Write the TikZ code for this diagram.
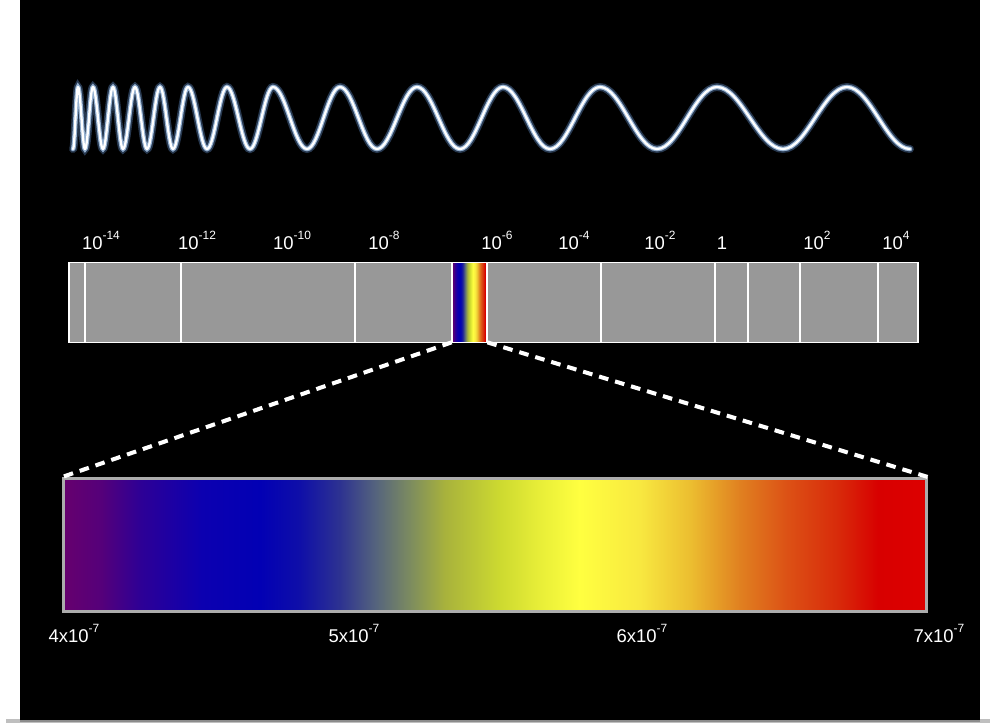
\documentclass[tikz,border=0pt]{standalone}
\usepackage{fontspec}
\setmainfont{Liberation Sans}
\usepackage{tikz}
\usetikzlibrary{positioning,calc}
\definecolor{panelBlack}{RGB}{0,0,0}
\definecolor{barGray}{RGB}{152,152,152}
\definecolor{bandEdge}{RGB}{172,172,172}
\definecolor{glowBlue}{RGB}{110,160,225}
\definecolor{glowPale}{RGB}{175,205,240}
% visible spectrum, stops between 25bp and 75bp
\pgfdeclarehorizontalshading{visible}{100bp}{%
  color(0bp)=(rgb,255:red,102;green,0;blue,110);
  color(25bp)=(rgb,255:red,102;green,0;blue,110);
  color(27.2bp)=(rgb,255:red,85;green,0;blue,122);
  color(29.5bp)=(rgb,255:red,45;green,0;blue,150);
  color(33bp)=(rgb,255:red,12;green,0;blue,176);
  color(36.4bp)=(rgb,255:red,2;green,0;blue,180);
  color(38.7bp)=(rgb,255:red,15;green,15;blue,168);
  color(41bp)=(rgb,255:red,45;green,50;blue,145);
  color(43.1bp)=(rgb,255:red,85;green,100;blue,125);
  color(45.1bp)=(rgb,255:red,125;green,140;blue,95);
  color(47.1bp)=(rgb,255:red,168;green,178;blue,60);
  color(50.3bp)=(rgb,255:red,205;green,218;blue,48);
  color(52.6bp)=(rgb,255:red,232;green,238;blue,56);
  color(54.9bp)=(rgb,255:red,255;green,255;blue,64);
  color(58.4bp)=(rgb,255:red,248;green,232;blue,64);
  color(61.3bp)=(rgb,255:red,236;green,190;blue,48);
  color(64.2bp)=(rgb,255:red,224;green,128;blue,32);
  color(67bp)=(rgb,255:red,220;green,80;blue,21);
  color(69.9bp)=(rgb,255:red,216;green,42;blue,10);
  color(72.2bp)=(rgb,255:red,216;green,0;blue,0);
  color(75bp)=(rgb,255:red,221;green,0;blue,0);
  color(100bp)=(rgb,255:red,221;green,0;blue,0)}
\newcommand{\expo}[1]{\raisebox{0.5em}{\fontsize{6.8}{7}\selectfont #1}}

\begin{document}
\begin{tikzpicture}[x=0.02cm, y=-0.02cm,
    every node/.style={text=white, font=\fontsize{10.5}{12}\selectfont},
    wave/.style={draw=white, line width=1.3pt, line cap=round, line join=round,
      preaction={draw=glowBlue, opacity=0.35, line width=4.5pt, line cap=round},
      preaction={draw=glowPale, opacity=0.8, line width=2.6pt, line cap=round}},
    divider/.style={draw=white, line width=1.1pt},
    zoomline/.style={draw=white, line width=2.3pt, dash pattern=on 5.5pt off 4pt},
    scalelabel/.style={anchor=base},
  ]
  \useasboundingbox (0,0) rectangle (1000,727);
  % Background panel with its shadow
  \fill[black!25] (6,719) rectangle (990,723);
  \fill[black!45] (20,719) rectangle (980,721.5);
  \fill[panelBlack] (20,0) rectangle (980,720);

  % Wave, wavelength growing to the right
  \draw[wave] (73,149) \foreach \a/\b/\c in {75.5/78/87, 81.5/85/149, 89/93/87, 98/103/149,
      108/113/87, 118/123/149, 129/135/87, 141/147/149, 153.5/160/87, 166.5/173/149,
      180.5/188/87, 197.5/207/149, 217/227/87, 238.5/250/149, 261.5/273/87, 290/307/149,
      323.5/340/87, 358.5/377/149, 397/417/87, 438.5/460/149, 481.5/503/87, 526.5/550/149,
      575/600/87, 628.5/657/149, 687/717/87, 750/783/149, 815/847/87, 878.5/910/149}
    { cos (\a,118) sin (\b,\c) };

  % Scale bar
  \node[draw=white, line width=1.1pt, fill=barGray, minimum width=16.98cm, minimum height=1.6cm,
    inner sep=0pt] (bar) at (493.5,302.5) {};
  \node[shading=visible, minimum width=0.7cm, minimum height=1.58cm, inner sep=0pt]
    (mini) at (469.5,302.5) {};
  \foreach \x in {85,181,355,452,487,601,715,748,800,878}
    \draw[divider] (\x,263) -- (\x,342);

  % Wavelength labels
  \node[scalelabel] (l14) at (101,249) {10\expo{-14}};
  \node[scalelabel] (l12) at (197,249) {10\expo{-12}};
  \node[scalelabel] (l10) at (292,249) {10\expo{-10}};
  \node[scalelabel] (l8) at (384,249) {10\expo{-8}};
  \node[scalelabel] (l6) at (497,249) {10\expo{-6}};
  \node[scalelabel] (l4) at (574,249) {10\expo{-4}};
  \node[scalelabel] (l2) at (660,249) {10\expo{-2}};
  \node[scalelabel] (l0) at (722,249) {1};
  \node[scalelabel] (p2) at (817,249) {10\expo{2}};
  \node[scalelabel] (p4) at (896,249) {10\expo{4}};

  % Visible band, enlarged
  \node[draw=bandEdge, line width=1.7pt, shading=visible, minimum width=17.26cm,
    minimum height=2.66cm, inner sep=0pt] (band) at (495,545) {};
  \draw[zoomline] (mini.south west) -- (band.north west);
  \draw[zoomline] (mini.south east) -- (band.north east);

  % Band labels
  \node[scalelabel] (v4) at (74,642) {4x10\expo{-7}};
  \node[scalelabel] (v5) at (354,642) {5x10\expo{-7}};
  \node[scalelabel] (v6) at (642,642) {6x10\expo{-7}};
  \node[scalelabel] (v7) at (939,642) {7x10\expo{-7}};
\end{tikzpicture}
\end{document}
